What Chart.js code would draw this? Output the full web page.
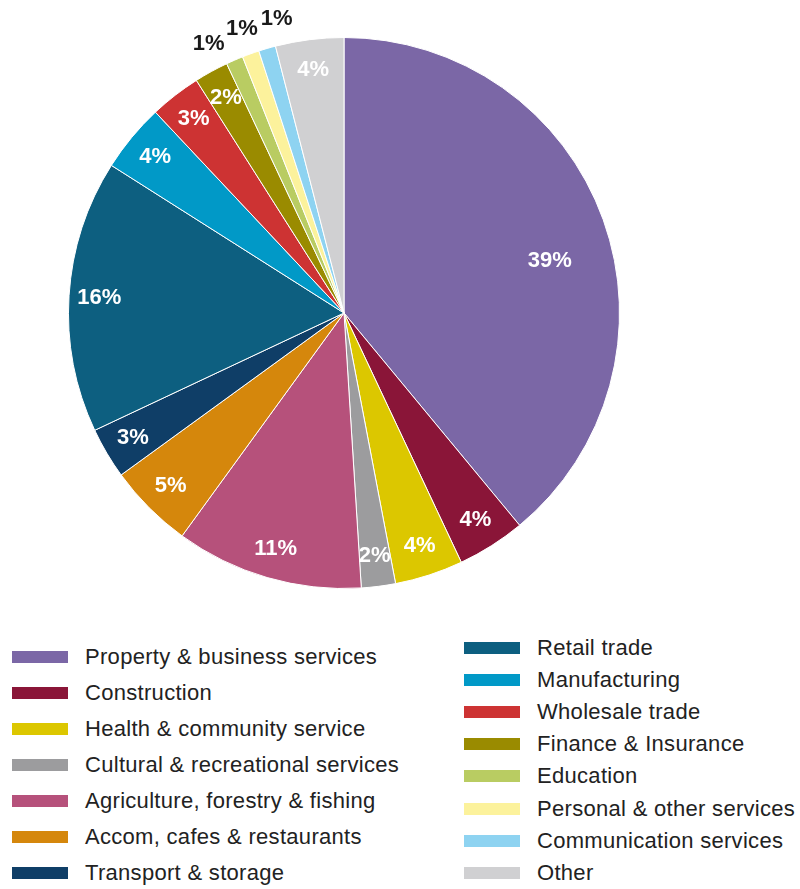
<!DOCTYPE html>
<html>
<head>
<meta charset="utf-8">
<title>Industry share</title>
<script src="https://cdn.jsdelivr.net/npm/chart.js@4/dist/chart.umd.min.js"></script>
<style>
  body { margin: 0; background: #fff; font-family: "Liberation Sans", Arial, sans-serif; }
  #wrap { position: relative; width: 800px; height: 889px; }
  #pie { position: absolute; left: 0; top: 0; }
  .row { position: absolute; height: 26px; display: flex; align-items: center; font-size: 22px; letter-spacing: 0.3px; color: #222; white-space: nowrap; }
  .row span.sw { display: inline-block; width: 56px; height: 12px; margin-right: 17px; }
</style>
</head>
<body>
<div id="wrap">
  <canvas id="pie" width="800" height="600"></canvas>
  <div id="legend"></div>
</div>
<script>
// Share of businesses by industry (%)
const industries = [
    'Property & business services', 'Construction', 'Health & community service',
    'Cultural & recreational services', 'Agriculture, forestry & fishing',
    'Accom, cafes & restaurants', 'Transport & storage', 'Retail trade',
    'Manufacturing', 'Wholesale trade', 'Finance & Insurance', 'Education',
    'Personal & other services', 'Communication services', 'Other'
];
const shares = [39, 4, 4, 2, 11, 5, 3, 16, 4, 3, 2, 1, 1, 1, 4];
const colours = [
    '#7b67a6', '#8a1538', '#dcc700', '#9c9c9e', '#b6517b',
    '#d5870c', '#0f3e67', '#0d5f80', '#0199c7', '#cd3333',
    '#9a8b00', '#b9cc62', '#fcf29c', '#8ed3f1', '#d0d0d2'
];

// Percent labels: white inside the slice, dark just outside for the thin ones
const sliceLabels = {
    id: 'sliceLabels',
    afterDatasetsDraw(chart) {
        const ctx = chart.ctx;
        const meta = chart.getDatasetMeta(0);
        ctx.save();
        ctx.font = 'bold 22px "Liberation Sans", Arial, sans-serif';
        ctx.textAlign = 'center';
        ctx.textBaseline = 'middle';

        // thin slices get their labels outside, fanned apart so they don't collide
        const outside = [];
        meta.data.forEach((arc, i) => { if (shares[i] <= 1) outside.push(i); });
        const fan = 0.12;
        const meanMid = outside.reduce((s, i) => {
            const a = meta.data[i];
            return s + (a.startAngle + a.endAngle) / 2;
        }, 0) / (outside.length || 1);

        meta.data.forEach((arc, i) => {
            const v = shares[i];
            let mid = (arc.startAngle + arc.endAngle) / 2;
            let r, colour;
            if (v <= 1) {
                const k = outside.indexOf(i);
                mid = meanMid + (k - (outside.length - 1) / 2) * fan;
                r = arc.outerRadius + 26;
                colour = '#1a1a1a';
            } else if (v > 20) {
                mid += 0.1;
                r = arc.outerRadius * 0.77;
                colour = '#fff';
            } else {
                r = arc.outerRadius * 0.89;
                colour = '#fff';
            }
            ctx.fillStyle = colour;
            ctx.fillText(v + '%', arc.x + Math.cos(mid) * r, arc.y + Math.sin(mid) * r);
        });
        ctx.restore();
    }
};

new Chart(document.getElementById('pie'), {
    type: 'pie',
    data: {
        labels: industries,
        datasets: [{
            data: shares,
            backgroundColor: colours,
            borderColor: '#fff',
            borderWidth: 1,
            hoverOffset: 0
        }]
    },
    options: {
        responsive: false,
        animation: false,
        layout: { padding: { left: 68, right: 180, top: 37, bottom: 11 } },
        plugins: {
            legend: { display: false },
            tooltip: { enabled: false }
        }
    },
    plugins: [sliceLabels]
});

// Two-column legend below the pie
const legend = document.getElementById('legend');
industries.forEach((name, i) => {
    const left = i < 7;
    const idx = left ? i : i - 7;
    const row = document.createElement('div');
    row.className = 'row';
    row.style.left = left ? '12px' : '464px';
    row.style.top = ((left ? 657 + idx * 36 : 648 + idx * 32.1) - 13) + 'px';
    row.innerHTML = `<span class="sw" style="background:${colours[i]}"></span>${name}`;
    legend.appendChild(row);
});
</script>
</body>
</html>
